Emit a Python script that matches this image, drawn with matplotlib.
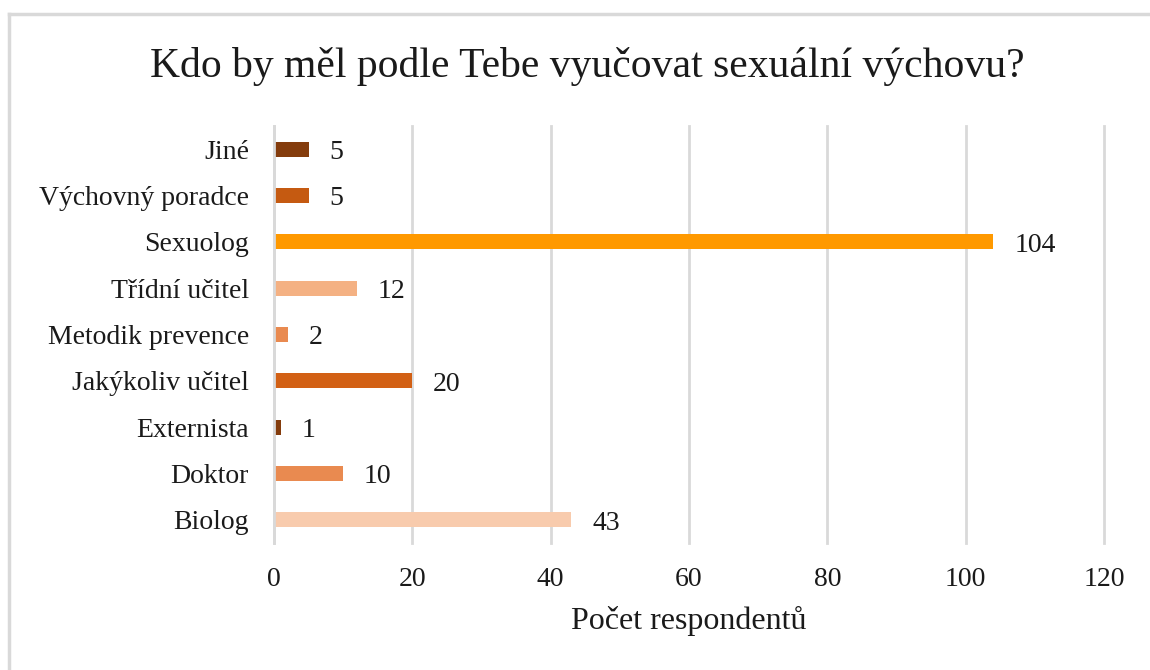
import matplotlib
matplotlib.use("Agg")
import matplotlib.pyplot as plt
from matplotlib.lines import Line2D

# data, bottom to top
categories = ["Biolog", "Doktor", "Externista", "Jakýkoliv učitel", "Metodik prevence",
              "Třídní učitel", "Sexuolog", "Výchovný poradce", "Jiné"]
counts = [43, 10, 1, 20, 2, 12, 104, 5, 5]
colors = ["#F8CBAD", "#E98A50", "#843C0C", "#D26014", "#E98A50",
          "#F4B183", "#FF9900", "#C55A11", "#843C0C"]
x_ticks = [0, 20, 40, 60, 80, 100, 120]

plt.rcParams["font.family"] = ["Liberation Serif", "DejaVu Serif"]

fig = plt.figure(figsize=(11.5, 6.7), dpi=100)
ax = fig.add_axes([274 / 1150, 1 - 543 / 670, 830 / 1150, 417 / 670])

ax.barh(range(len(categories)), counts, height=0.33, color=colors)
for i, v in enumerate(counts):
    ax.annotate(str(v), (v, i), xytext=(15, -2.5), textcoords="offset points",
                ha="left", va="center", fontsize=20, color="#1a1a1a")

ax.set_xlim(0, 120)
ax.set_ylim(-0.5, len(categories) - 0.5)
ax.set_xticks(x_ticks)
ax.set_yticks(range(len(categories)))
ax.set_yticklabels(categories)
ax.tick_params(axis="both", length=0, labelsize=20, colors="#1a1a1a")
ax.tick_params(axis="x", pad=17)
ax.tick_params(axis="y", pad=18)
ax.grid(axis="x", color="#d9d9d9", linewidth=2)
for gl in ax.get_xgridlines():
    gl.set_clip_on(False)
ax.set_axisbelow(True)
for s in ["top", "right", "bottom"]:
    ax.spines[s].set_visible(False)
ax.spines["left"].set_color("#d9d9d9")
ax.spines["left"].set_linewidth(2)

ax.set_xlabel("Počet respondentů", fontsize=23, color="#1a1a1a", labelpad=10)
fig.text(0.5 + 12 / 1150, 1 - 66 / 670, "Kdo by měl podle Tebe vyučovat sexuální výchovu?",
         ha="center", va="center", fontsize=30, color="#1a1a1a")

# outer chart border (top and left visible)
fig.add_artist(Line2D([9 / 1150, 9 / 1150], [0, 1 - 14 / 670], color="#d9d9d9", linewidth=2.5))
fig.add_artist(Line2D([9 / 1150, 1], [1 - 14 / 670, 1 - 14 / 670], color="#d9d9d9", linewidth=2.5))

fig.savefig("out.png", dpi=100)
